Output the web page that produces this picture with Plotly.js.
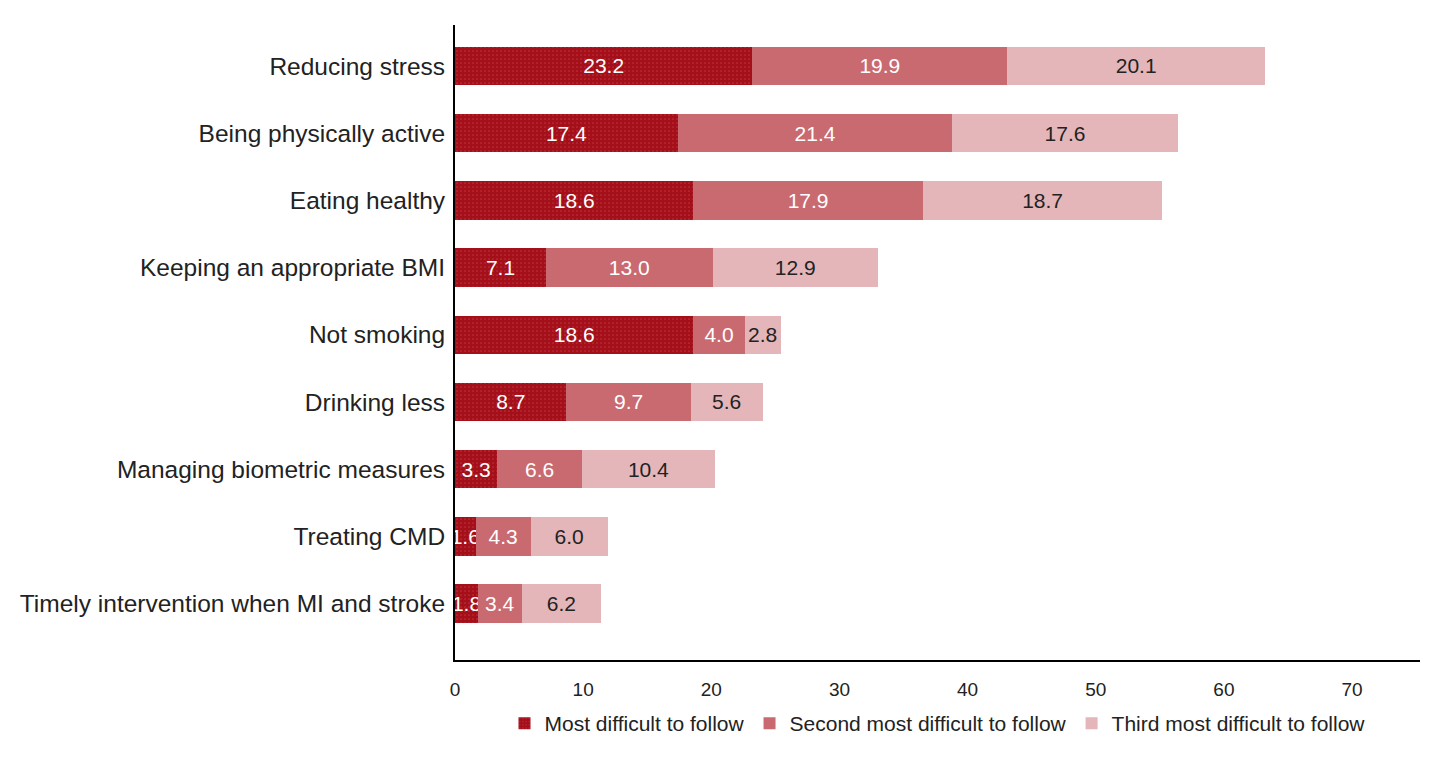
<!DOCTYPE html>
<html>
<head>
<meta charset="utf-8">
<script src="https://cdn.plot.ly/plotly-3.0.1.min.js"></script>
<style>html,body{margin:0;padding:0;background:#fff;}#chart{width:1442px;height:757px;}</style>
</head>
<body>
<div id="chart"></div>
<script>
const categories = [
  "Reducing stress",
  "Being physically active",
  "Eating healthy",
  "Keeping an appropriate BMI",
  "Not smoking",
  "Drinking less",
  "Managing biometric measures",
  "Treating CMD",
  "Timely intervention when MI and stroke"
];
const mostDifficult = [23.2, 17.4, 18.6, 7.1, 18.6, 8.7, 3.3, 1.6, 1.8];
const secondDifficult = [19.9, 21.4, 17.9, 13.0, 4.0, 9.7, 6.6, 4.3, 3.4];
const thirdDifficult = [20.1, 17.6, 18.7, 12.9, 2.8, 5.6, 10.4, 6.0, 6.2];
const seriesNames = ["Most difficult to follow", "Second most difficult to follow", "Third most difficult to follow"];
const xTicks = [0, 10, 20, 30, 40, 50, 60, 70];

const colors = ["#A50F1A", "#C96A70", "#E4B6B9"];
const textColors = ["#ffffff", "#ffffff", "#222222"];
const seriesData = [mostDifficult, secondDifficult, thirdDifficult];

const traces = seriesData.map((vals, i) => {
  const t = {
    type: "bar",
    orientation: "h",
    name: seriesNames[i],
    y: categories,
    x: vals,
    width: 0.57,
    cliponaxis: false,
    marker: {color: colors[i], line: {width: 0}},
    texttemplate: "%{x:.1f}",
    textposition: "inside",
    insidetextanchor: "middle",
    textangle: 0,
    constraintext: "none",
    insidetextfont: {
      family: "Liberation Sans, Arial, sans-serif",
      size: 21,
      color: textColors[i]
    },
    hoverinfo: "x+y+name"
  };
  if (i === 0) {
    t.marker.pattern = {shape: ".", fgcolor: "#B8323A", bgcolor: colors[0], size: 4, solidity: 0.15};
  }
  return t;
});

const layout = {
  width: 1442,
  height: 757,
  barmode: "stack",
  paper_bgcolor: "#ffffff",
  plot_bgcolor: "#ffffff",
  margin: {l: 455, r: 22, t: 25, b: 97, autoexpand: false},
  font: {family: "Liberation Sans, Arial, sans-serif", color: "#222222"},
  xaxis: {
    range: [0, 75.3],
    tickvals: xTicks,
    ticktext: xTicks.map(String),
    showgrid: false,
    zeroline: false,
    showline: true,
    linecolor: "#000000",
    linewidth: 2,
    ticks: "",
    tickfont: {size: 19, color: "#222222"},
    ticklabelstandoff: 11
  },
  yaxis: {
    type: "category",
    range: [8.84, -0.61],
    showgrid: false,
    zeroline: false,
    showline: true,
    linecolor: "#000000",
    linewidth: 2,
    ticks: "",
    tickfont: {size: 24.5, color: "#222222"},
    ticklabelstandoff: 3
  },
  legend: {
    orientation: "h",
    x: 0.5,
    xanchor: "center",
    y: -0.1,
    yanchor: "middle",
    font: {size: 21, color: "#222222"},
    traceorder: "normal",
    itemwidth: 30
  },
  showlegend: true
};

Plotly.newPlot("chart", traces, layout, {displayModeBar: false, staticPlot: true});
</script>
</body>
</html>
